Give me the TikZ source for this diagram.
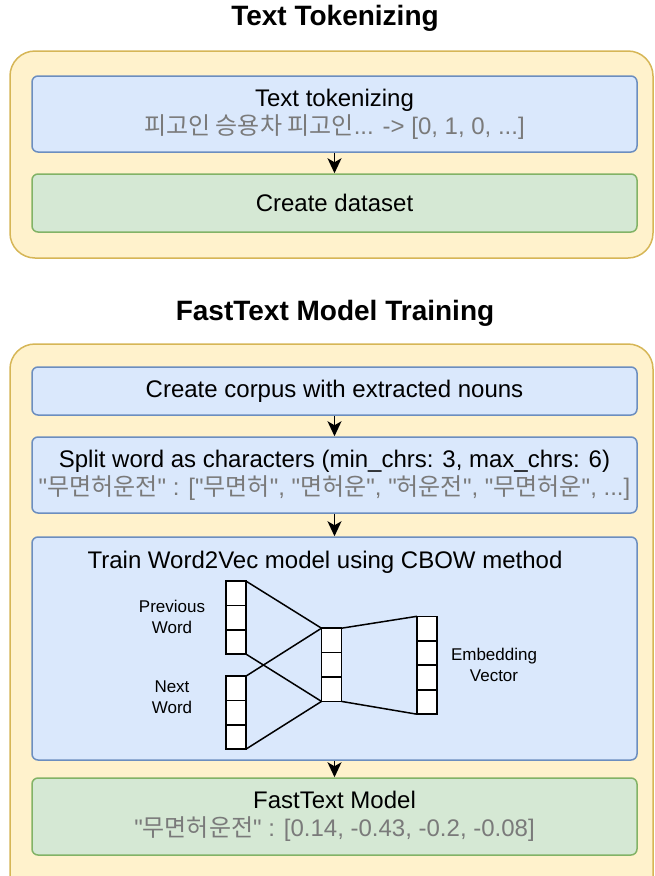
\documentclass[tikz,border=0pt]{standalone}
\usepackage{fontspec}
\newfontfamily\lsans{Liberation Sans}
\newfontfamily\kr{Noto Sans CJK KR}
\usepackage{tikz}
\usetikzlibrary{arrows.meta,positioning}
\usepackage{xcolor}
\definecolor{panelfill}{HTML}{FFF2CC}
\definecolor{paneldraw}{HTML}{D6B656}
\definecolor{bluefill}{HTML}{DAE8FC}
\definecolor{bluedraw}{HTML}{6C8EBF}
\definecolor{greenfill}{HTML}{D5E8D4}
\definecolor{greendraw}{HTML}{82B366}
\definecolor{subgray}{HTML}{7A7A7A}

\tikzset{
  panel/.style={draw=paneldraw, fill=panelfill, line width=1.5pt, rounded corners=25pt,
    minimum width=643pt, inner sep=0pt},
  bluebox/.style={draw=bluedraw, fill=bluefill, line width=1.5pt, rounded corners=6pt,
    minimum width=605pt, inner sep=0pt, align=center, font=\fontsize{24}{28}\selectfont},
  greenbox/.style={bluebox, draw=greendraw, fill=greenfill},
  heading/.style={font=\fontsize{28}{32}\selectfont\bfseries},
  cell/.style={draw, fill=white, line width=1.6pt, minimum width=20pt, minimum height=24.4pt,
    inner sep=0pt, outer sep=0pt},
  netlabel/.style={align=center, font=\fontsize{17}{21}\selectfont},
  flow/.style={-{Stealth[length=15pt,width=14pt,inset=4pt]}, line width=1.4pt},
  sub/.style={text=subgray}
}

\begin{document}
\lsans
\begin{tikzpicture}[x=1pt, y=-1pt]
    \clip (0,0) rectangle (654,876);

    % Text tokenizing panel
    \node[heading] (title1) at (335,18) {Text Tokenizing};
    \node[panel, minimum height=207pt] (panel1) at (331.5,154.5) {};
    \node[bluebox, minimum height=76pt] (tok) at (334.5,114)
        {Text tokenizing\\{\color{subgray}{\kr 피고인 승용차 피고인}... -> [0, 1, 0, ...]}};
    \node[greenbox, minimum height=58pt] (data) at (334.5,203) {Create dataset};
    \draw[flow] (tok) -- (data);

    % FastText panel
    \node[heading] (title2) at (335,313) {FastText Model Training};
    \node[panel, minimum height=561pt] (panel2) at (331.5,624.5) {};
    \node[bluebox, minimum height=48pt] (corpus) at (334.5,391) {Create corpus with extracted nouns};
    \node[bluebox, minimum height=76pt] (split) at (334.5,475)
        {Split word as characters (min\_chrs: 3, max\_chrs: 6)\\
         {\color{subgray}"{\kr 무면허운전}" : ["{\kr 무면허}", "{\kr 면허운}", "{\kr 허운전}", "{\kr 무면허운}", ...]}};
    \node[bluebox, minimum height=223pt] (train) at (334.5,648.5) {};
    \node[font=\fontsize{24}{28}\selectfont] (traintxt) at (325,562) {Train Word2Vec model using CBOW method};
    \node[greenbox, minimum height=77pt] (model) at (334.5,816.5)
        {FastText Model\\{\color{subgray}"{\kr 무면허운전}" : [0.14, -0.43, -0.2, -0.08]}};
    \draw[flow] (corpus) -- (split);
    \draw[flow] (split) -- (train);
    \draw[flow] (train) -- (model);

    % CBOW network
    \foreach \i in {1,2,3} {
        \node[cell] (prev\i) at (236, 569+24.3*\i) {};
        \node[cell] (next\i) at (236, 664+24.3*\i) {};
        \node[cell] (hid\i) at (331.5, 616+24.4*\i) {};
    }
    \foreach \i in {1,...,4}
        \node[cell] (emb\i) at (427, 604+24.5*\i) {};

    \draw[line width=1.5pt] (prev1.north east) -- (hid1.north west);
    \draw[line width=1.5pt] (prev3.south east) -- (hid3.south west);
    \draw[line width=1.5pt] (next1.north east) -- (hid1.north west);
    \draw[line width=1.5pt] (next3.south east) -- (hid3.south west);
    \draw[line width=1.5pt] (hid1.north east) -- (emb1.north west);
    \draw[line width=1.5pt] (hid3.south east) -- (emb4.south west);

    \node[netlabel] (prevlbl) at (172,617) {Previous\\Word};
    \node[netlabel] (nextlbl) at (172,697) {Next\\Word};
    \node[netlabel] (emblbl) at (494,665) {Embedding\\Vector};
\end{tikzpicture}
\end{document}
